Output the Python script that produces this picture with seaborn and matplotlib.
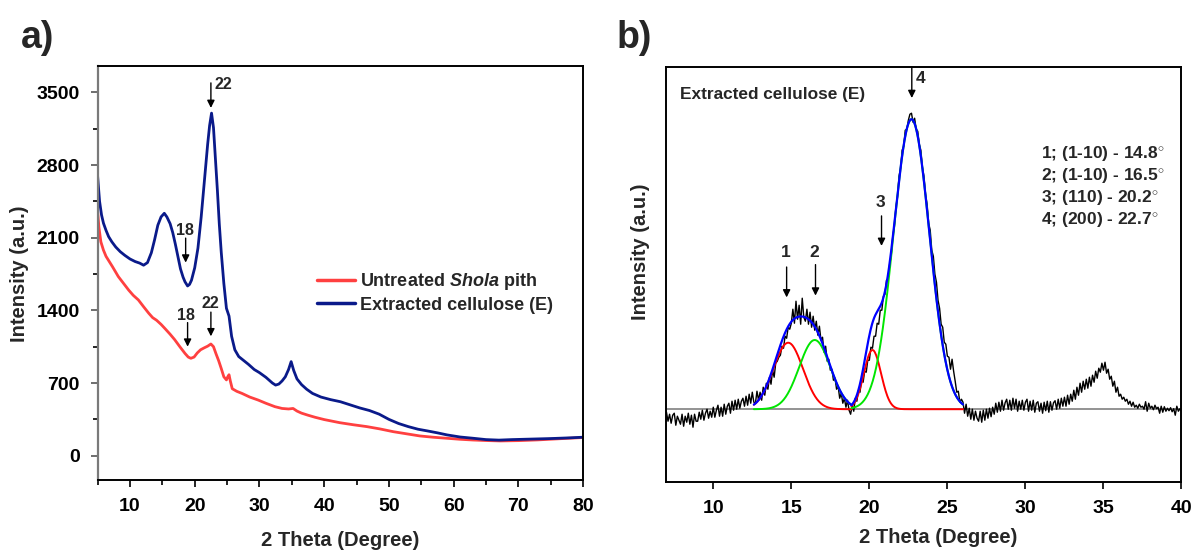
import numpy as np
import matplotlib
matplotlib.use("Agg")
import matplotlib.pyplot as plt
from matplotlib import font_manager
from matplotlib.ticker import MultipleLocator
import seaborn as sns

# ---------------- panel a: XRD patterns ----------------
two_theta_untreated = [5.0, 5.2, 5.5, 5.9, 6.3, 6.7, 7.3, 8.2, 9.0, 9.8, 10.5, 11.3, 12.1, 12.9,
                       13.5, 14.1, 14.8, 15.4, 16.2, 16.9, 17.7, 18.5, 19.0, 19.4, 19.9, 20.4,
                       20.9, 21.5, 22.0, 22.5, 22.9, 23.3, 23.7, 24.1, 24.5, 24.9, 25.1, 25.3,
                       25.5, 25.8, 26.5, 27.3, 28.5, 29.8, 31.0, 32.4, 33.5, 34.5, 35.2, 35.8,
                       36.5, 37.5, 38.6, 40.0, 42.4, 44.5, 46.6, 48.6, 50.7, 52.8, 54.8, 56.8,
                       58.9, 61.0, 63.0, 65.0, 67.2, 70.0, 73.0, 76.0, 80.0]
intensity_untreated = [2350, 2200, 2060, 1980, 1920, 1880, 1820, 1725, 1660, 1595, 1545, 1500,
                       1435, 1372, 1330, 1305, 1265, 1225, 1170, 1118, 1050, 985, 950, 938, 950,
                       990, 1020, 1040, 1055, 1076, 1050, 980, 915, 840, 760, 730, 760, 780, 720,
                       645, 620, 600, 565, 536, 505, 472, 455, 450, 455, 430, 410, 390, 370, 348,
                       318, 298, 280, 258, 231, 210, 190, 178, 168, 158, 151, 146, 142, 145, 152,
                       162, 175]

two_theta_cellulose = [5.0, 5.3, 5.6, 5.9, 6.3, 6.7, 7.2, 7.8, 8.5, 9.2, 10.0, 10.8, 11.5, 12.1,
                       12.7, 13.3, 13.8, 14.3, 14.8, 15.3, 15.7, 16.2, 16.6, 17.0, 17.4, 17.8,
                       18.2, 18.5, 18.9, 19.2, 19.5, 20.0, 20.5, 21.0, 21.5, 22.0, 22.3, 22.6,
                       22.9, 23.2, 23.5, 23.8, 24.1, 24.5, 24.9, 25.3, 25.7, 26.2, 26.8, 27.5,
                       28.3, 29.2, 30.0, 31.0, 32.0, 32.5, 33.0, 33.5, 34.0, 34.5, 34.9, 35.3,
                       35.8, 36.5, 37.3, 38.2, 39.5, 41.0, 42.5, 44.0, 45.5, 47.0, 48.5, 50.0,
                       51.5, 53.0, 54.5, 56.0, 57.5, 59.0, 61.0, 63.0, 65.0, 67.0, 69.0, 72.0,
                       75.0, 78.0, 80.0]
intensity_cellulose = [2690, 2450, 2320, 2240, 2170, 2110, 2060, 2010, 1965, 1930, 1895, 1870,
                       1855, 1835, 1860, 1955, 2080, 2220, 2300, 2335, 2300, 2235, 2150, 2040,
                       1920, 1800, 1720, 1675, 1635, 1650, 1690, 1810, 2000, 2300, 2650, 3000,
                       3180, 3300, 3160, 2860, 2560, 2230, 1960, 1660, 1420, 1345, 1150, 1020,
                       955, 920, 880, 830, 800, 755, 700, 680, 690, 720, 760, 830, 906, 820, 740,
                       685, 640, 600, 565, 540, 520, 490, 460, 435, 400, 350, 310, 280, 255, 238,
                       220, 200, 180, 168, 155, 150, 155, 160, 165, 172, 178]

# ---------------- panel b: deconvolution of the extracted cellulose ----------------
scan_start, scan_step = 7.0, 0.1
scan_counts = [
    -30, -120, -50, -140, -60, -40, -160, -70, -110, -150,
    -50, -170, -70, -130, -40, -150, -60, -180, -50, -120,
    -120, -30, -100, -10, -110, -40, 0, -90, -20, -80,
    20, -80, -10, 40, -70, 20, -70, 50, -50, 30,
    60, -40, 80, -10, 90, 0, 100, 10, 80, 110,
    30, 130, 40, 150, 60, 170, 70, 60, 180, 90,
    170, 90, 220, 140, 260, 200, 320, 250, 390, 320,
    460, 480, 520, 540, 630, 610, 730, 710, 820, 800,
    860, 1000, 860, 1080, 900, 1040, 850, 1110, 920, 880,
    1000, 850, 970, 820, 930, 790, 880, 740, 830, 690,
    720, 570, 630, 480, 500, 390, 400, 290, 310, 200,
    230, 110, 160, 60, 110, 20, 90, -10, -50, 40,
    -20, 110, 80, 190, 170, 290, 270, 380, 370, 490,
    490, 620, 610, 730, 730, 860, 850, 990, 990, 1130,
    1150, 1290, 1300, 1450, 1530, 1730, 1820, 2020, 2120, 2330,
    2410, 2590, 2630, 2790, 2800, 2890, 2950, 2960, 2870, 2910,
    2800, 2780, 2650, 2590, 2420, 2330, 2150, 2050, 1860, 1790,
    1590, 1530, 1350, 1270, 1090, 1010, 850, 820, 670, 650,
    530, 520, 400, 500, 380, 280, 170, 180, 70, 100,
    70, -40, 50, -70, 10, -100, 0, -110, -20, -90,
    -120, -20, -130, -10, -110, 0, -90, 10, -75, 20,
    -50, 60, -30, 70, -20, 90, -10, 65, 100, 0,
    90, -10, 110, 10, 100, -20, 80, 0, 90, -10,
    70, 100, -20, 80, -10, 90, -30, 60, 75, -20,
    60, -40, 70, -15, 80, -30, 75, -10, 65, 85,
    0, 100, 10, 110, 30, 120, 30, 140, 50, 150,
    80, 190, 100, 220, 140, 260, 170, 280, 200, 300,
    210, 320, 230, 340, 270, 380, 310, 410, 370, 460,
    390, 470, 360, 400, 300, 330, 230, 280, 170, 220,
    130, 150, 100, 120, 80, 100, 50, 80, 30, 70,
    20, 40, 10, 50, 20, 30, 0, 75, -20, 60,
    10, 30, -5, 40, 5, 20, -40, 30, -30, 25,
    -20, 10, -15, 15, -25, 5, -60, 30, -20, 5,
    -20,
]
scan_theta = np.round(scan_start + scan_step * np.arange(len(scan_counts)), 2)

# fitted Gaussian components: centre (deg), height, sigma (deg), fit group
peak_ids = ["1", "2", "3", "4"]
peak_centres = [14.8, 16.5, 20.2, 22.7]
peak_heights = [665, 692, 592, 2900]
peak_sigmas = [0.95, 1.0, 0.55, 1.15]
peak_groups = [0, 0, 1, 1]
peak_colours = ["#ff0000", "#00e600", "#ff0000", "#00e600"]
fit_windows = [(12.6, 18.85), (18.85, 26.0)]
peak_labels = ["1; (1-10) - 14.8$^{\\circ}$", "2; (1-10) - 16.5$^{\\circ}$",
               "3; (110) - 20.2$^{\\circ}$", "4; (200) - 22.7$^{\\circ}$"]


def gauss(x, c, h, s):
    return h * np.exp(-0.5 * ((x - c) / s) ** 2)


# ---------------- style ----------------
sns.set_theme(style="ticks")
available = {f.name for f in font_manager.fontManager.ttflist}
has_narrow = "Liberation Sans Narrow" in available
legend_family = "Liberation Sans Narrow" if has_narrow else "Liberation Sans"
legend_size = 15.5 if has_narrow else 13

plt.rcParams["font.family"] = ["Liberation Sans", "DejaVu Sans"]
plt.rcParams["font.weight"] = "bold"
plt.rcParams["axes.labelweight"] = "bold"
plt.rcParams["mathtext.fontset"] = "custom"
plt.rcParams["mathtext.it"] = f"{legend_family}:italic:bold"
plt.rcParams["mathtext.rm"] = "Liberation Sans:bold"
plt.rcParams["mathtext.bf"] = "Liberation Sans:bold"
plt.rcParams["xtick.color"] = "black"
plt.rcParams["ytick.color"] = "black"

fig = plt.figure(figsize=(11.95, 5.53), dpi=100)
fig.patch.set_facecolor("white")
axA = fig.add_axes([0.0817, 0.1313, 0.4062, 0.7488])
axB = fig.add_axes([0.5577, 0.128, 0.431, 0.7508])

# ---- panel a ----
sns.lineplot(x=two_theta_untreated, y=intensity_untreated, ax=axA, color="#ff4040",
             linewidth=2.0, estimator=None, label="Untreated $\\it{Shola}$ pith")
sns.lineplot(x=two_theta_cellulose, y=intensity_cellulose, ax=axA, color="#0a1a8a",
             linewidth=2.0, estimator=None, label="Extracted cellulose (E)")
axA.set_xlim(5, 80)
axA.set_ylim(-238, 3751)
axA.set_xticks(range(10, 81, 10))
axA.xaxis.set_minor_locator(MultipleLocator(5))
axA.set_yticks(range(0, 3501, 700))
axA.yaxis.set_minor_locator(MultipleLocator(350))
axA.tick_params(which="major", direction="out", length=5, width=1.2, labelsize=14, pad=8)
axA.tick_params(which="minor", direction="out", length=3.5, width=1.2)
axA.tick_params(axis="y", colors="#555555", labelcolor="black")
for side in ["top", "right", "bottom"]:
    axA.spines[side].set_color("black")
    axA.spines[side].set_linewidth(1.4)
axA.spines["left"].set_color("#7a7a7a")
axA.spines["left"].set_linewidth(1.6)

axA.set_xlabel("2 Theta (Degree)", fontsize=14.5, fontweight="bold")
axA.set_ylabel("Intensity (a.u.)", fontsize=14.5, fontweight="bold")
axA.xaxis.set_label_coords(0.5, -0.144)
axA.xaxis.label.set_va("center")
axA.yaxis.set_label_coords(-0.16, 0.5)
axA.yaxis.label.set_va("center")

leg = axA.legend(loc="center left", bbox_to_anchor=(0.452, 0.454), frameon=False,
                 prop={"family": legend_family, "weight": "bold", "size": legend_size},
                 handlelength=2.1, handletextpad=0.3, labelspacing=0.25,
                 borderpad=0, borderaxespad=0)
for line in leg.get_lines():
    line.set_linewidth(2.5)

arrow_style = dict(arrowstyle="-|>", color="black", lw=1.0, mutation_scale=11,
                   shrinkA=0, shrinkB=0)
# (label, label x, label y, arrow x, arrow top, arrow tip, ha)
marks_a = [("22", 23.0, 3575, 22.5, 3591, 3350, "left"),
           ("18", 18.5, 2167, 18.6, 2096, 1860, "center"),
           ("18", 18.7, 1353, 18.9, 1282, 1050, "center"),
           ("22", 22.4, 1465, 22.5, 1383, 1150, "center")]
for txt, tx, ty, ax_x, a0, a1, ha in marks_a:
    axA.annotate("", xy=(ax_x, a1), xytext=(ax_x, a0), arrowprops=arrow_style)
    axA.text(tx, ty, txt, ha=ha, va="center", fontsize=11.5, fontweight="bold")

# ---- panel b ----
axB.axhline(0, color="#808080", linewidth=1.2, zorder=1)
sns.lineplot(x=scan_theta, y=scan_counts, ax=axB, color="black", linewidth=1.0,
             estimator=None, zorder=2)
for c, h, s, g, col in zip(peak_centres, peak_heights, peak_sigmas, peak_groups,
                           peak_colours):
    lo, hi = fit_windows[g]
    xs = np.linspace(lo, hi, 200)
    sns.lineplot(x=xs, y=gauss(xs, c, h, s), ax=axB, color=col, linewidth=1.4,
                 estimator=None, zorder=3)
for g, (lo, hi) in enumerate(fit_windows):
    xs = np.linspace(lo, hi, 300)
    total = np.zeros_like(xs)
    for c, h, s, pg in zip(peak_centres, peak_heights, peak_sigmas, peak_groups):
        if pg == g:
            total += gauss(xs, c, h, s)
    sns.lineplot(x=xs, y=total, ax=axB, color="#0000ff", linewidth=1.6,
                 estimator=None, zorder=4)

axB.set_xlim(7, 40)
axB.set_ylim(-730, 3422)
axB.set_xticks(range(10, 41, 5))
axB.set_yticks([])
axB.tick_params(axis="x", direction="out", length=5, width=1.2, labelsize=14, pad=8)
for side in axB.spines.values():
    side.set_color("black")
    side.set_linewidth(1.4)
axB.set_xlabel("2 Theta (Degree)", fontsize=14.5, fontweight="bold")
axB.set_ylabel("Intensity (a.u.)", fontsize=14.5, fontweight="bold")
axB.xaxis.set_label_coords(0.527, -0.134)
axB.xaxis.label.set_va("center")
axB.yaxis.set_label_coords(-0.051, 0.554)
axB.yaxis.label.set_va("center")

# peak markers: label x, label y, arrow x, arrow top, arrow tip
marks_b = [(14.65, 1570, 14.7, 1422, 1118),
           (16.47, 1570, 16.55, 1446, 1136),
           (20.7, 2064, 20.78, 1933, 1633),
           (23.28, 3309, 22.72, 3422, 3112)]
for pid, (tx, ty, ax_x, a0, a1) in zip(peak_ids, marks_b):
    axB.annotate("", xy=(ax_x, a1), xytext=(ax_x, a0), arrowprops=arrow_style)
    axB.text(tx, ty, pid, ha="center", va="center", fontsize=12.5, fontweight="bold")

axB.text(7.87, 3150, "Extracted cellulose (E)", ha="left", va="center",
         fontsize=12.4, fontweight="bold")
for i, lab in enumerate(peak_labels):
    axB.text(30.98, 2559 - i * 222, lab, ha="left", va="center",
             fontsize=12.5, fontweight="bold")

fig.text(21 / 1195, 1 - 38.4 / 553, "a)", fontsize=27, fontweight="bold",
         ha="left", va="center")
fig.text(617 / 1195, 1 - 38.4 / 553, "b)", fontsize=27, fontweight="bold",
         ha="left", va="center")

fig.savefig("out.png", dpi=100, facecolor="white")
